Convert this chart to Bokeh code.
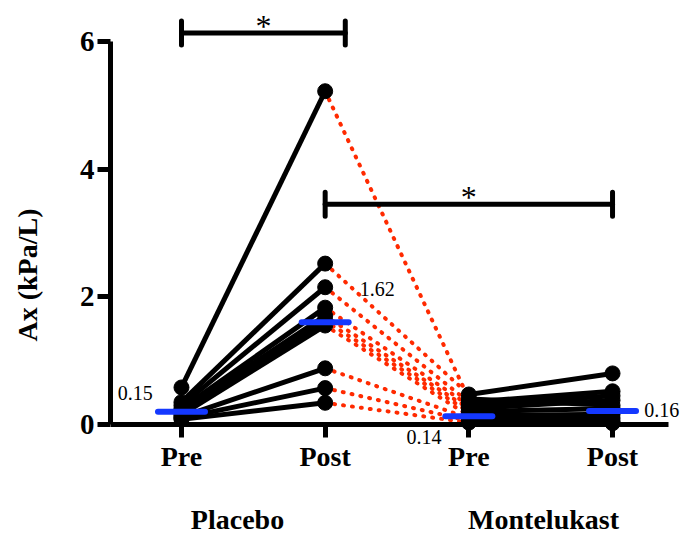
from bokeh.plotting import figure
from bokeh.models import LinearAxis, FixedTicker, Range1d, Label
from bokeh.core.properties import value
from bokeh.embed import file_html
from bokeh.resources import INLINE

# ---- data ----
categories = ["Pre", "Post", "Pre", "Post"]
cat_x = [1, 2, 3, 4]
groups = ["Placebo", "Montelukast"]
group_x = [1.39, 3.52]

placebo_pre = [0.58, 0.35, 0.30, 0.25, 0.22, 0.18, 0.15, 0.12, 0.10, 0.08]
placebo_post = [5.22, 2.52, 2.15, 1.83, 1.70, 1.62, 1.55, 0.88, 0.57, 0.34]
monte_pre = [0.40, 0.47, 0.35, 0.30, 0.25, 0.20, 0.14, 0.10, 0.06, 0.03]
monte_post = [0.30, 0.80, 0.52, 0.45, 0.38, 0.25, 0.16, 0.10, 0.05, 0.02]

median_y = [0.20, 1.60, 0.13, 0.21]
median_labels = ["0.15", "1.62", "0.14", "0.16"]
median_label_x = [0.80, 2.24, 2.81, 4.22]
median_label_y = [0.50, 2.12, -0.20, 0.22]
median_label_align = ["right", "left", "right", "left"]

sig_x0 = [1, 2]
sig_x1 = [2.14, 4]
sig_y = [6.13, 3.45]
sig_text = ["*", "*"]

FONT = "Liberation Serif"
BLUE = "#1438ff"
RED = "#ff2a00"

p = figure(frame_width=570, frame_height=531, output_backend="svg", toolbar_location=None,
           x_range=Range1d(0.506, 4.473), y_range=Range1d(-1.817, 6.5),
           min_border_left=110, min_border_right=0, min_border_top=9,
           min_border_bottom=0,
           background_fill_color="white", border_fill_color="white")
p.outline_line_color = None
p.grid.visible = False

n = len(placebo_pre)
# red dotted washout lines
p.segment(x0=[cat_x[1]] * n, y0=placebo_post, x1=[cat_x[2]] * n, y1=monte_pre,
          line_color=RED, line_width=4, line_dash=value("1 8"), line_cap="round")
# black paired lines
p.segment(x0=[cat_x[0]] * n, y0=placebo_pre, x1=[cat_x[1]] * n, y1=placebo_post,
          line_color="black", line_width=5)
p.segment(x0=[cat_x[2]] * n, y0=monte_pre, x1=[cat_x[3]] * n, y1=monte_post,
          line_color="black", line_width=5)
for cx, vals in zip(cat_x, [placebo_pre, placebo_post, monte_pre, monte_post]):
    p.scatter(x=[cx] * n, y=vals, size=15, color="black", marker="circle")

# medians
p.scatter(x=cat_x, y=median_y, marker="dash", size=47, line_color=BLUE,
          line_width=6, line_cap="round")
for lx, ly, t, al in zip(median_label_x, median_label_y, median_labels, median_label_align):
    p.add_layout(Label(x=lx, y=ly, text=t, text_align=al, text_baseline="middle",
                       text_font=FONT, text_font_size="20px", text_color="black"))

# significance bars
p.segment(x0=sig_x0, y0=sig_y, x1=sig_x1, y1=sig_y, line_color="black",
          line_width=5, line_cap="round")
p.scatter(x=sig_x0 + sig_x1, y=sig_y + sig_y, marker="dash", angle=1.5708,
          size=24, line_color="black", line_width=5, line_cap="round")
p.text(x=[(a + b) / 2 for a, b in zip(sig_x0, sig_x1)], y=sig_y, text=sig_text,
       text_align="center", text_baseline="alphabetic", y_offset=-7,
       text_font=value(FONT), text_font_size="32px", text_color="black")

# axes
xa = p.xaxis[0]
xa.fixed_location = 0
xa.bounds = (0.506, 4.39)
xa.ticker = FixedTicker(ticks=cat_x)
xa.major_label_overrides = {c: t for c, t in zip(cat_x, categories)}
xa.minor_tick_line_color = None
xa.axis_line_width = 5
xa.major_tick_line_width = 5
xa.major_tick_out = 13
xa.major_tick_in = 0
xa.major_label_standoff = 4
xa.major_label_text_font = FONT
xa.major_label_text_font_style = "bold"
xa.major_label_text_font_size = "28px"
xa.major_label_text_color = "black"

ga = LinearAxis(ticker=FixedTicker(ticks=group_x),
                major_label_overrides={g: t for g, t in zip(group_x, groups)})
ga.fixed_location = 0
ga.axis_line_color = None
ga.major_tick_line_color = None
ga.minor_tick_line_color = None
ga.major_tick_out = 0
ga.major_label_standoff = 80
ga.major_label_text_font = FONT
ga.major_label_text_font_style = "bold"
ga.major_label_text_font_size = "28px"
ga.major_label_text_color = "black"
p.add_layout(ga, "below")

ya = p.yaxis[0]
ya.bounds = (0, 6)
ya.ticker = FixedTicker(ticks=[0, 2, 4, 6])
ya.minor_tick_line_color = None
ya.axis_line_width = 5
ya.major_tick_line_width = 5
ya.major_tick_out = 13
ya.major_tick_in = 0
ya.major_label_standoff = 3
ya.major_label_text_font = FONT
ya.major_label_text_font_style = "bold"
ya.major_label_text_font_size = "29px"
ya.major_label_text_color = "black"
ya.axis_label = "Ax (kPa/L)"
ya.axis_label_text_font = FONT
ya.axis_label_text_font_style = "bold"
ya.axis_label_text_font_size = "28px"
ya.axis_label_text_color = "black"
ya.axis_label_standoff = 34

open("out.html", "w").write(file_html(p, INLINE))
